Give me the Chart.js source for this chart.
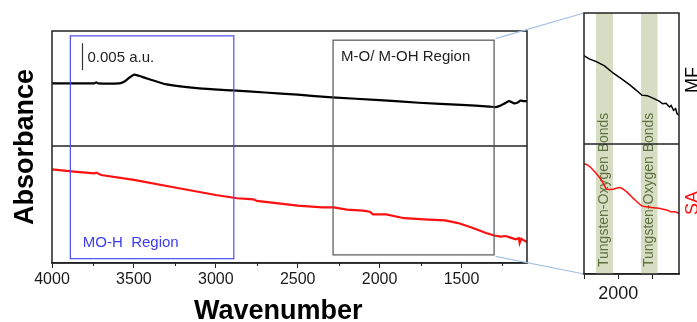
<!DOCTYPE html>
<html>
<head>
<meta charset="utf-8">
<script src="https://cdn.jsdelivr.net/npm/chart.js@4.4.1/dist/chart.umd.min.js"></script>
<style>
  html, body { margin: 0; padding: 0; background: #fff; overflow: hidden; }
  #wrap { position: relative; width: 697px; height: 322px; }
  #wrap canvas { position: absolute; left: 0; top: 0; }
</style>
</head>
<body>
<div id="wrap">
  <canvas id="mainChart" width="697" height="322"></canvas>
  <canvas id="insetChart" width="697" height="322"></canvas>
</div>
<script>
// ==== main panel data (absorbance in 10^-3 a.u., offset per trace) ====
const mfWavenumber = [4000, 3850, 3740, 3730, 3720, 3590, 3560, 3530, 3500, 3470, 3420, 3300, 3100, 2900, 2700, 2500, 2290, 2000, 1760, 1500, 1330, 1290, 1260, 1240, 1210, 1180, 1160, 1140, 1120, 1100];
const mfAbsorbance = [33.3, 33.3, 33.3, 33.5, 33.3, 33.3, 33.6, 34.3, 34.9, 34.7, 34.2, 33.1, 32.35, 32.0, 31.6, 31.2, 30.7, 30.2, 29.7, 29.3, 29.0, 28.9, 29.2, 29.5, 30.0, 29.6, 29.7, 30.1, 30.0, 30.0];

const saWavenumber = [4000, 3850, 3740, 3730, 3700, 3500, 3250, 3000, 2870, 2770, 2750, 2500, 2350, 2280, 2200, 2100, 2060, 2040, 1960, 1850, 1700, 1600, 1520, 1430, 1350, 1300, 1260, 1230, 1200, 1170, 1150, 1145, 1135, 1120, 1100];
const saAbsorbance = [17.35, 16.9, 16.6, 16.75, 16.3, 15.4, 14.0, 12.6, 12.0, 11.8, 11.5, 10.65, 10.3, 10.3, 9.9, 9.7, 9.5, 9.0, 9.0, 8.3, 8.05, 7.9, 7.4, 6.5, 5.55, 5.1, 4.9, 5.0, 4.7, 4.4, 4.6, 3.7, 4.5, 4.2, 3.9];

const mainTicks = [4000, 3500, 3000, 2500, 2000, 1500];
const mainMinorTicks = [3750, 3250, 2750, 2250, 1750, 1250];

// boxes drawn over the main panel: [from, to] wavenumber, [bottom, top] absorbance
const moHRegion = [3888, 2890];
const moHRegionY = [0.8, 42.1];
const mOHRegion = [2284, 1301];
const mOHRegionY = [1.5, 41.3];
const panelDivider = 21.67;
const scaleBarX = 3819;
const scaleBarY = [35.74, 40.74];

// ==== inset data ====
const insetMfWavenumber = [2100, 2085, 2064, 2040, 2015, 1990, 1966, 1945, 1931, 1915, 1897, 1880, 1870, 1860, 1850, 1845, 1838, 1832, 1828, 1822];
const insetMfAbsorbance = [40.4, 39.8, 39.3, 38.5, 37.2, 36.1, 35.0, 33.9, 33.1, 33.0, 32.5, 32.0, 31.5, 31.6, 30.9, 31.2, 30.3, 30.6, 29.7, 29.4];

const insetSaWavenumber = [2100, 2090, 2074, 2049, 2034, 2015, 1995, 1975, 1956, 1931, 1907, 1887, 1870, 1858, 1845, 1835, 1822];
const insetSaAbsorbance = [20.4, 20.2, 19.3, 17.4, 15.7, 15.7, 16.0, 15.2, 14.0, 12.6, 12.35, 12.2, 12.0, 11.85, 11.5, 11.5, 11.24];

const insetTicks = [2100, 2000, 1900];
const tungstenBands = [[2065, 2015], [1933, 1885]];
const insetDivider = 24.07;

const FONT = "'Liberation Sans', Arial, sans-serif";

function toPoints(xs, ys) {
  return xs.map((x, i) => ({ x, y: ys[i] }));
}

// =========================
// main panel decorations
// =========================
const mainDecor = {
  id: "mainDecor",
  afterDraw(chart) {
    const { ctx, chartArea: a, scales: { x, y } } = chart;
    ctx.save();

    // minor ticks
    ctx.strokeStyle = "#222";
    ctx.lineWidth = 1;
    mainMinorTicks.forEach((v) => {
      const px = Math.round(x.getPixelForValue(v)) + 0.5;
      ctx.beginPath();
      ctx.moveTo(px, a.bottom);
      ctx.lineTo(px, a.bottom + 3);
      ctx.stroke();
    });

    // frame + divider
    ctx.strokeStyle = "#222";
    ctx.lineWidth = 1.5;
    ctx.strokeRect(a.left, a.top, a.right - a.left, a.bottom - a.top);
    const dy = y.getPixelForValue(panelDivider);
    ctx.beginPath();
    ctx.moveTo(a.left, dy);
    ctx.lineTo(a.right, dy);
    ctx.stroke();

    // region boxes
    const box = (xr, yr, color) => {
      const x0 = x.getPixelForValue(xr[0]);
      const x1 = x.getPixelForValue(xr[1]);
      const y0 = y.getPixelForValue(yr[1]);
      const y1 = y.getPixelForValue(yr[0]);
      ctx.strokeStyle = color;
      ctx.lineWidth = 1.2;
      ctx.strokeRect(x0, y0, x1 - x0, y1 - y0);
      return { x0, y0, x1, y1 };
    };
    const blue = box(moHRegion, moHRegionY, "#4a4cf5");
    const gray = box(mOHRegion, mOHRegionY, "#555");

    ctx.font = "15px " + FONT;
    ctx.textBaseline = "middle";
    ctx.textAlign = "left";
    ctx.fillStyle = "#3c3cf0";
    ctx.fillText("MO-H  Region", blue.x0 + 12.5, blue.y1 - 15.5);
    ctx.fillStyle = "#222";
    ctx.fillText("M-O/ M-OH Region", gray.x0 + 8, gray.y0 + 17);

    // scale bar
    const sx = Math.round(x.getPixelForValue(scaleBarX)) + 0.5;
    ctx.strokeStyle = "#333";
    ctx.lineWidth = 1.2;
    ctx.beginPath();
    ctx.moveTo(sx, y.getPixelForValue(scaleBarY[0]));
    ctx.lineTo(sx, y.getPixelForValue(scaleBarY[1]));
    ctx.stroke();
    ctx.fillStyle = "#222";
    ctx.fillText("0.005 a.u.", sx + 5, (y.getPixelForValue(scaleBarY[0]) + y.getPixelForValue(scaleBarY[1])) / 2 + 1);

    ctx.restore();
  },
};

const mainChart = new Chart(document.getElementById("mainChart"), {
  type: "line",
  data: {
    datasets: [
      {
        label: "MF",
        data: toPoints(mfWavenumber, mfAbsorbance),
        borderColor: "#000",
        borderWidth: 2.2,
        pointRadius: 0,
        tension: 0.2,
      },
      {
        label: "SA",
        data: toPoints(saWavenumber, saAbsorbance),
        borderColor: "#ff1010",
        borderWidth: 2.2,
        pointRadius: 0,
        tension: 0,
      },
    ],
  },
  options: {
    responsive: false,
    animation: false,
    layout: { padding: { left: 0, top: 31, right: 170, bottom: 0 } },
    plugins: { legend: { display: false }, tooltip: { enabled: false } },
    scales: {
      x: {
        type: "linear",
        reverse: true,
        min: 1100,
        max: 4000,
        afterBuildTicks: (s) => {
          s.ticks = mainTicks.map((v) => ({ value: v }));
        },
        afterFit: (s) => {
          s.height = 59;
        },
        grid: { display: true, drawOnChartArea: false, tickLength: 5, tickColor: "#222", tickWidth: 1 },
        border: { display: true, color: "#222", width: 1.5 },
        ticks: {
          color: "#1a1a1a",
          padding: 2,
          maxRotation: 0,
          font: { family: FONT, size: 16 },
          callback: (v) => String(v),
        },
        title: {
          display: true,
          text: "Wavenumber   ",
          color: "#000",
          padding: { top: 0, bottom: -6 },
          font: { family: FONT, size: 27, weight: "bold" },
        },
      },
      y: {
        min: 0,
        max: 43,
        ticks: { display: false },
        grid: { display: false },
        border: { display: false },
        afterFit: (s) => {
          s.width = 52;
        },
        title: {
          display: true,
          text: "Absorbance",
          color: "#000",
          padding: { top: 9, bottom: 0 },
          font: { family: FONT, size: 27, weight: "bold" },
        },
      },
    },
  },
  plugins: [mainDecor],
});

// =========================
// inset decorations
// =========================
const insetDecor = {
  id: "insetDecor",
  beforeDatasetsDraw(chart) {
    const { ctx, chartArea: a, scales: { x } } = chart;
    ctx.save();
    tungstenBands.forEach(([from, to]) => {
      const x0 = x.getPixelForValue(from);
      const x1 = x.getPixelForValue(to);
      ctx.fillStyle = "#d6ddc3";
      ctx.fillRect(x0, a.top, x1 - x0, a.bottom - a.top);
      ctx.save();
      ctx.translate((x0 + x1) / 2, a.bottom - 7);
      ctx.rotate(-Math.PI / 2);
      ctx.font = "14px " + FONT;
      ctx.fillStyle = "#5f7040";
      ctx.textAlign = "left";
      ctx.textBaseline = "middle";
      ctx.fillText("Tungsten-Oxygen Bonds", 0, 0);
      ctx.restore();
    });
    ctx.restore();
  },
  afterDraw(chart) {
    const { ctx, chartArea: a, scales: { y } } = chart;
    const mx = mainChart.scales.x;
    const my = mainChart.scales.y;
    ctx.save();

    // zoom lines from the M-O box to the inset
    const gx = mx.getPixelForValue(mOHRegion[1]) + 1.5;
    ctx.strokeStyle = "#a3bfe3";
    ctx.lineWidth = 1.2;
    ctx.beginPath();
    ctx.moveTo(gx, my.getPixelForValue(mOHRegionY[1]) - 1.5);
    ctx.lineTo(a.left, a.top);
    ctx.moveTo(gx, my.getPixelForValue(mOHRegionY[0]) + 1.5);
    ctx.lineTo(a.left, a.bottom);
    ctx.stroke();

    // frame + divider
    ctx.strokeStyle = "#222";
    ctx.lineWidth = 1.5;
    ctx.strokeRect(a.left, a.top, a.right - a.left, a.bottom - a.top);
    const dy = y.getPixelForValue(insetDivider);
    ctx.beginPath();
    ctx.moveTo(a.left, dy);
    ctx.lineTo(a.right, dy);
    ctx.stroke();

    // sample labels
    ctx.font = "18px " + FONT;
    ctx.textAlign = "left";
    ctx.textBaseline = "alphabetic";
    const lab = (txt, color, bottom) => {
      ctx.save();
      ctx.translate(a.right + 18.5, bottom);
      ctx.rotate(-Math.PI / 2);
      ctx.fillStyle = color;
      ctx.fillText(txt, 0, 0);
      ctx.restore();
    };
    lab("MF", "#000", a.top + 80);
    lab("SA", "#ff1010", a.top + 202);

    ctx.restore();
  },
};

new Chart(document.getElementById("insetChart"), {
  type: "line",
  data: {
    datasets: [
      {
        label: "MF",
        data: toPoints(insetMfWavenumber, insetMfAbsorbance),
        borderColor: "#000",
        borderWidth: 1.5,
        pointRadius: 0,
        tension: 0,
      },
      {
        label: "SA",
        data: toPoints(insetSaWavenumber, insetSaAbsorbance),
        borderColor: "#ff1010",
        borderWidth: 1.5,
        pointRadius: 0,
        tension: 0.15,
      },
    ],
  },
  options: {
    responsive: false,
    animation: false,
    layout: { padding: { left: 584, top: 13, right: 18, bottom: 0 } },
    plugins: { legend: { display: false }, tooltip: { enabled: false } },
    scales: {
      x: {
        type: "linear",
        reverse: true,
        min: 1822,
        max: 2100,
        afterBuildTicks: (s) => {
          s.ticks = insetTicks.map((v) => ({ value: v }));
        },
        afterFit: (s) => {
          s.height = 48;
        },
        grid: { display: true, drawOnChartArea: false, tickLength: 5, tickColor: "#222" },
        border: { display: true, color: "#222", width: 1.5 },
        ticks: {
          color: "#1a1a1a",
          padding: 4,
          maxRotation: 0,
          autoSkip: false,
          font: { family: FONT, size: 18 },
          callback: (v) => (v === 2000 ? "2000" : ""),
        },
      },
      y: { display: false, min: 0, max: 48.3 },
    },
  },
  plugins: [insetDecor],
});
</script>
</body>
</html>
